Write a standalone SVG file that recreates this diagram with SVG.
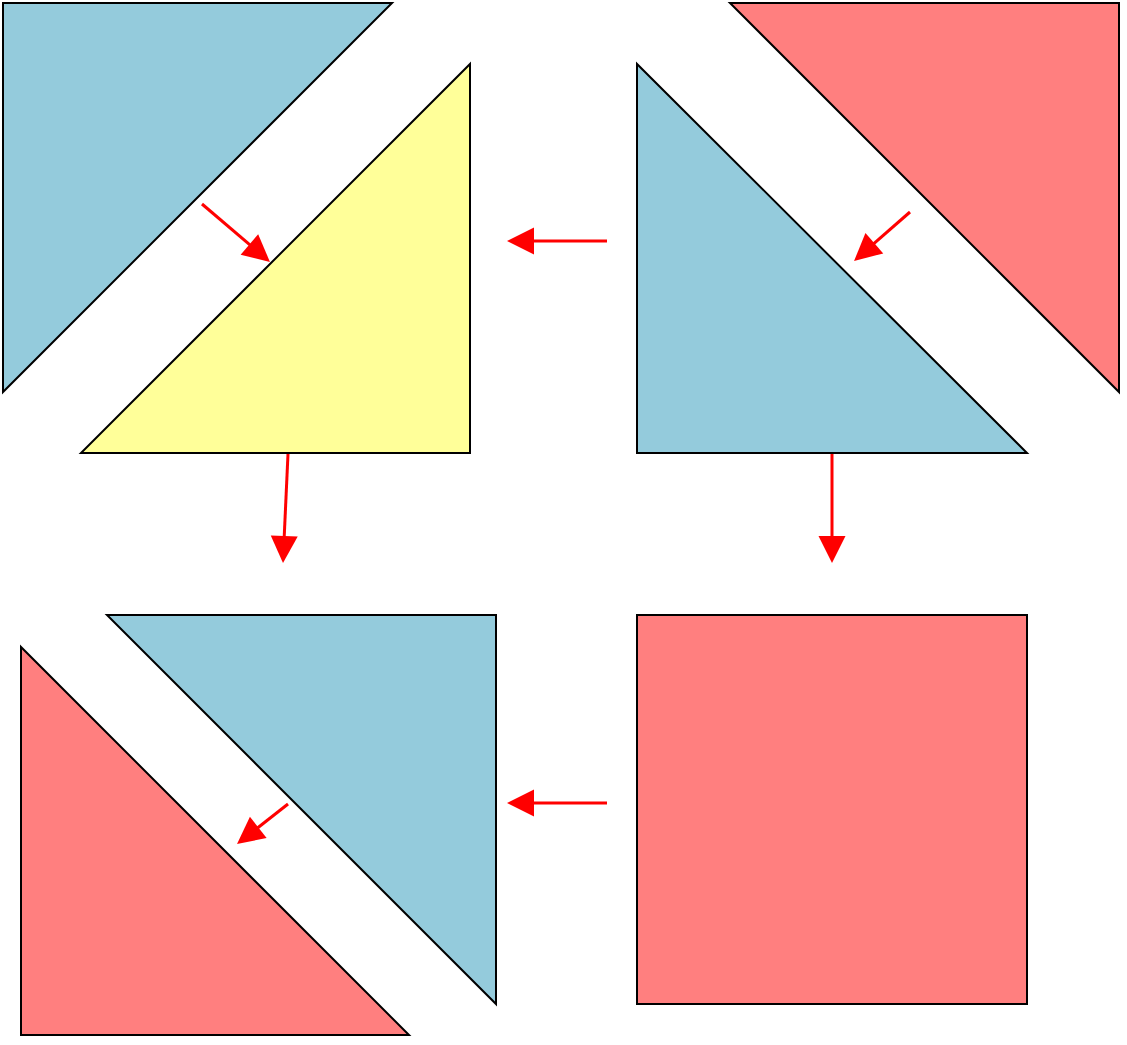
<svg xmlns="http://www.w3.org/2000/svg" width="1127" height="1045" viewBox="0 0 1127 1045">
<style>
.s{stroke:#000;stroke-width:2;stroke-linejoin:miter}
.b{fill:#94CBDC}.r{fill:#FF7F7F}.y{fill:#FFFF99}
.c{stroke:#FF0000;stroke-width:3;fill:none}
</style>
<defs>
<marker id="ah" markerUnits="userSpaceOnUse" markerWidth="28" markerHeight="27" viewBox="0 0 28 27" refX="3" refY="13.5" orient="auto" overflow="visible">
<path d="M0,0 L27,13.5 L0,27 Z" fill="#FF0000"/>
</marker>
</defs>
<rect width="1127" height="1045" fill="#fff"/>
<g id="blue-tl"><polygon class="s b" points="3,3 392,3 3,392"/></g>
<g id="yellow"><polygon class="s y" points="470,64 470,453 81,453"/></g>
<g id="blue-tr"><polygon class="s b" points="637,64 637,453 1027,453"/></g>
<g id="red-tr"><polygon class="s r" points="730,3 1119,3 1119,392"/></g>
<g id="blue-bl"><polygon class="s b" points="107,615 496,615 496,1004"/></g>
<g id="red-bl"><polygon class="s r" points="21,647 21,1035 409,1035"/></g>
<g id="red-square"><rect class="s r" x="637" y="615" width="390" height="389"/></g>
<g id="connectors">
<line class="c" x1="202" y1="204" x2="251.7" y2="246.4" marker-end="url(#ah)"/>
<line class="c" x1="607" y1="241" x2="531" y2="241" marker-end="url(#ah)"/>
<line class="c" x1="910" y1="212" x2="872.1" y2="245.2" marker-end="url(#ah)"/>
<line class="c" x1="288" y1="454" x2="284.1" y2="539" marker-end="url(#ah)"/>
<line class="c" x1="832" y1="454" x2="832" y2="539" marker-end="url(#ah)"/>
<line class="c" x1="607" y1="803" x2="531" y2="803" marker-end="url(#ah)"/>
<line class="c" x1="288" y1="804" x2="255.9" y2="829.2" marker-end="url(#ah)"/>
</g>
</svg>
